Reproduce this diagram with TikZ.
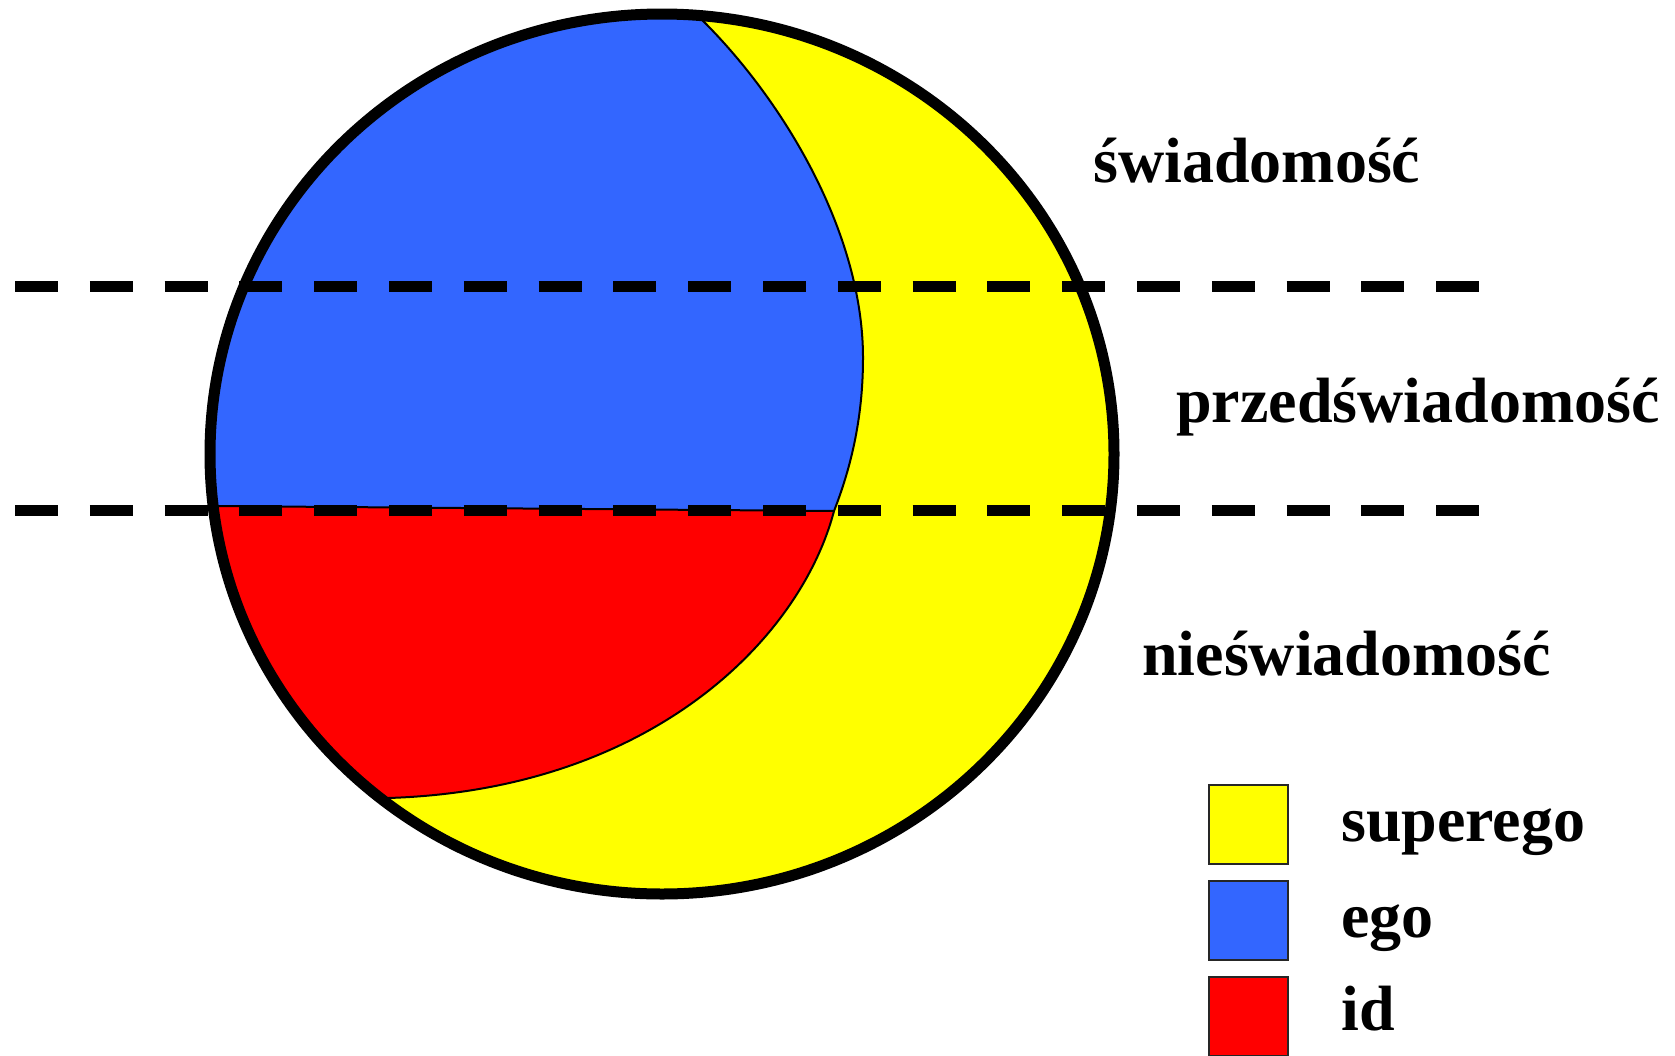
\documentclass[tikz,border=0pt]{standalone}
\usepackage{fontspec}
\setmainfont{Liberation Serif}
\definecolor{supY}{HTML}{FFFF00}
\definecolor{egoB}{HTML}{3366FF}
\definecolor{idR}{HTML}{FF0000}
\tikzset{
  lbl/.style={anchor=base west, inner sep=0pt, font=\fontsize{64}{64}\selectfont\bfseries},
  sep/.style={line width=11pt, dash pattern=on 43pt off 31.8pt},
  thinb/.style={line width=2pt, black},
  legbox/.style={draw=black!85, line width=2pt}
}
\begin{document}
\begin{tikzpicture}[x=1pt, y=-1pt]
\useasboundingbox (0,0) rectangle (1675,1055);
\fill[white] (0,0) rectangle (1675,1055);
% regions
\begin{scope}
  \clip (662,454) ellipse [x radius=452, y radius=440];
  \fill[supY] (662,454) ellipse [x radius=452, y radius=440];
  \fill[egoB] (697,0) -- (697,15) .. controls (780,95) and (863,230) .. (863,358)
        .. controls (863,420) and (850,470) .. (834,511) -- (214,506) -- (100,506) -- (100,0) -- cycle;
  \fill[idR] (834,511) .. controls (800,640) and (650,790) .. (388,798)
        -- (100,798) -- (100,506) -- (214,506) -- cycle;
  \draw[thinb] (697,15) .. controls (780,95) and (863,230) .. (863,358)
        .. controls (863,420) and (850,470) .. (834,511)
        .. controls (800,640) and (650,790) .. (388,798);
  \draw[thinb] (214,506) -- (834,511);
\end{scope}
% level separators
\draw[sep] (15,286) -- (1479,286);
\draw[sep] (15,510) -- (1479,510);
% outline
\draw[line width=11pt] (662,454) ellipse [x radius=452, y radius=440];
% level labels
\node[lbl] (swiad) at (1093,182) {świadomość};
\node[lbl] (przed) at (1176,422) {przedświadomość};
\node[lbl] (nies) at (1142,675) {nieświadomość};
% legend
\draw[legbox, fill=supY] (1209,785) rectangle (1288,864);
\draw[legbox, fill=egoB] (1209,881) rectangle (1288,960);
\draw[legbox, fill=idR] (1209,977) rectangle (1288,1056);
\node[lbl] (lsup) at (1341,841) {superego};
\node[lbl] (lego) at (1341,937) {ego};
\node[lbl] (lid) at (1341,1030) {id};
\end{tikzpicture}
\end{document}
